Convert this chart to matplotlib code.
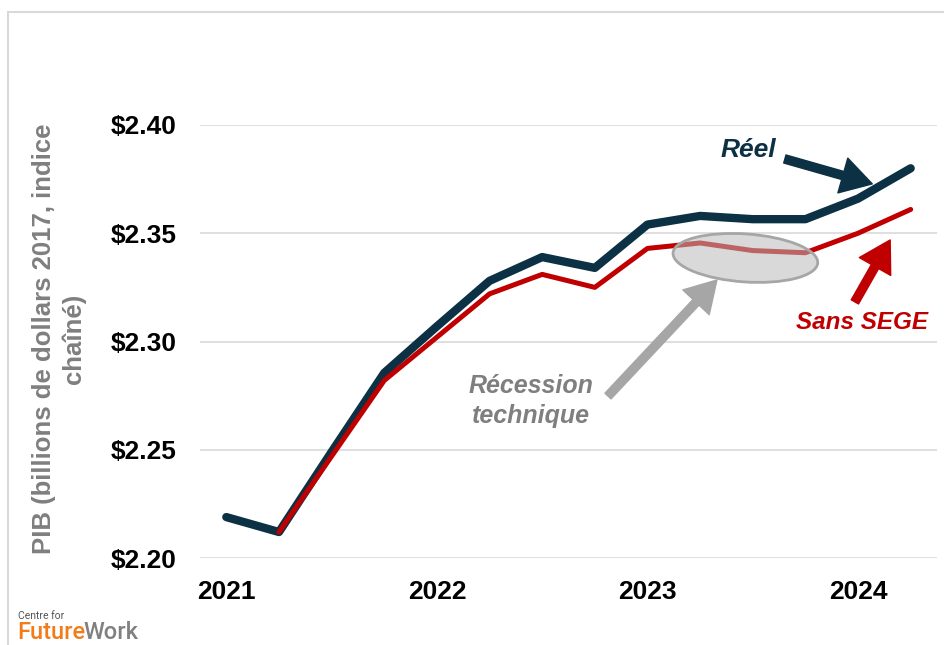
import matplotlib.pyplot as plt
from matplotlib.patches import Ellipse, Rectangle

# PIB trimestriel, 2021T1 - 2024T2 (billions de dollars 2017)
quarters = ['2021T1', '2021T2', '2021T3', '2021T4',
            '2022T1', '2022T2', '2022T3', '2022T4',
            '2023T1', '2023T2', '2023T3', '2023T4',
            '2024T1', '2024T2']
reel = [2.2189, 2.2120, 2.2490, 2.2855, 2.3070, 2.3280, 2.3390,
        2.3340, 2.3540, 2.3580, 2.3565, 2.3565, 2.3660, 2.3800]
sans_sege = [None, 2.2120, 2.2470, 2.2820, 2.3020, 2.3220, 2.3310,
             2.3250, 2.3430, 2.3455, 2.3420, 2.3410, 2.3500, 2.3610]
year_labels = ['2021', '2022', '2023', '2024']
y_ticks = [2.20, 2.25, 2.30, 2.35, 2.40]

navy = '#0c3044'
red = '#c00000'
grey_txt = '#7f7f7f'
grey_arrow = '#a6a6a6'
arrow_style = 'simple,head_length=1.1,head_width=1.3,tail_width=0.3'

plt.rcParams['font.family'] = ['Liberation Sans', 'DejaVu Sans']

fig = plt.figure(figsize=(9.45, 6.45), dpi=100)
ax = fig.add_axes([200/945, 1-558/645, 737/945, 433/645])

x = list(range(len(quarters)))
ax.plot(x, reel, color=navy, lw=6, solid_capstyle='round', zorder=3)
xs = [i for i, v in zip(x, sans_sege) if v is not None]
ys = [v for v in sans_sege if v is not None]
ax.plot(xs, ys, color=red, lw=3.6, solid_capstyle='round', zorder=4)

ax.set_xlim(-0.5, len(quarters) - 0.5)
ax.set_ylim(2.20, 2.40)
ax.set_xticks(range(0, len(quarters), 4))
ax.set_xticklabels(year_labels)
ax.set_yticks(y_ticks)
ax.set_yticklabels(['$%.2f' % v for v in y_ticks])
ax.tick_params(length=0, labelsize=19)
ax.tick_params(axis='y', pad=17)
ax.tick_params(axis='x', pad=16)
for lab in ax.get_xticklabels() + ax.get_yticklabels():
    lab.set_fontweight('bold')
for s in ax.spines.values():
    s.set_visible(False)
ax.grid(axis='y', color='#d9d9d9', lw=1.2)
ax.set_axisbelow(True)

# ellipse autour de la recession technique (dessinee en pixels)
cx, cy = ax.transData.transform((9.86, 2.3386))
ell = Ellipse((cx, cy), 145, 48, angle=-4, transform=None,
              facecolor=(185/255, 185/255, 185/255, 0.54),
              edgecolor=grey_arrow, lw=2, zorder=5)
fig.add_artist(ell)

# annotations
ax.text(9.91, 2.3885, 'Réel', color=navy, fontsize=19, fontweight='bold',
        fontstyle='italic', ha='center', va='center')
ax.annotate('', xy=(12.27, 2.3728), xytext=(10.61, 2.3843),
            arrowprops=dict(arrowstyle=arrow_style, mutation_scale=20,
                            color=navy, shrinkA=0, shrinkB=0))

ax.text(12.08, 2.309, 'Sans SEGE', color=red, fontsize=17.5, fontweight='bold',
        fontstyle='italic', ha='center', va='center')
ax.annotate('', xy=(12.61, 2.3469), xytext=(11.94, 2.3183),
            arrowprops=dict(arrowstyle=arrow_style, mutation_scale=20,
                            color=red, shrinkA=0, shrinkB=0))

ax.text(5.79, 2.2725, 'Récession\ntechnique', color=grey_txt, fontsize=18,
        fontweight='bold', fontstyle='italic', ha='center', va='center',
        linespacing=1.35)
ax.annotate('', xy=(9.32, 2.3284), xytext=(7.25, 2.2748),
            arrowprops=dict(arrowstyle=arrow_style, mutation_scale=20,
                            color=grey_arrow, shrinkA=0, shrinkB=0))

# titre de l'axe
fig.text(59/945, 1-339/645, 'PIB (billions de dollars 2017, indice\nchaîné)',
         rotation=90, ha='center', va='center', multialignment='center',
         color=grey_txt, fontsize=18.5, fontweight='bold', linespacing=1.25)

# cadre
fig.add_artist(Rectangle((8/945, -0.1), 2, 1.1 - 12/645, transform=fig.transFigure,
                         fill=False, edgecolor='#d9d9d9', lw=1.5))

# logo
fig.text(18/945, 1-616/645, 'Centre for', fontsize=7.5, color='#555555',
         family='Roboto', ha='left', va='center')
t1 = fig.text(17/945, 1-639/645, 'Future', fontsize=17, color='#f07c1b',
              family='Roboto', fontweight='medium', ha='left', va='baseline')
ax.annotate('Work', xy=(1, 0), xycoords=t1, xytext=(-1, 0),
            textcoords='offset points', fontsize=17, color='#808080',
            family='Roboto', fontweight='medium', ha='left', va='bottom',
            annotation_clip=False)

fig.savefig('out.png', dpi=100)
